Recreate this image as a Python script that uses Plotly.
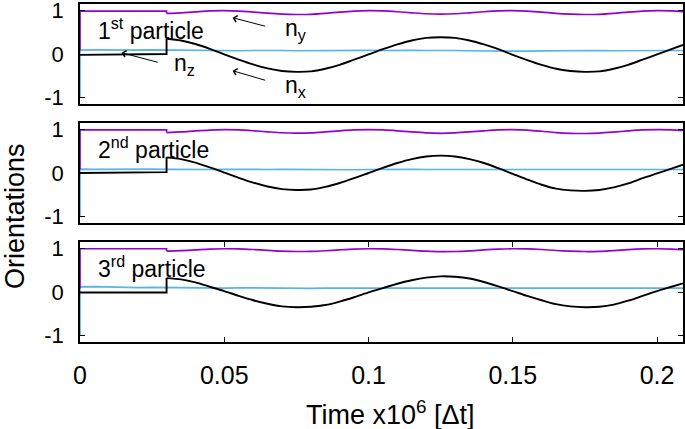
import plotly.graph_objects as go

# ---------------- data ----------------
T_PRE = [0.0, 0.01, 0.02, 0.03]
T_POST = [0.030, 0.035, 0.040, 0.045, 0.050, 0.055, 0.060, 0.065, 0.070, 0.075,
          0.080, 0.085, 0.090, 0.095, 0.100, 0.105, 0.110, 0.115, 0.120, 0.125,
          0.130, 0.135, 0.140, 0.145, 0.150, 0.155, 0.160, 0.165, 0.170, 0.175,
          0.180, 0.185, 0.190, 0.195, 0.200, 0.205, 0.209]
T_ALL = [0.000, 0.005, 0.010, 0.015, 0.020, 0.025, 0.030, 0.035, 0.040, 0.045,
         0.050, 0.055, 0.060, 0.065, 0.070, 0.075, 0.080, 0.085, 0.090, 0.095,
         0.100, 0.105, 0.110, 0.115, 0.120, 0.125, 0.130, 0.135, 0.140, 0.145,
         0.150, 0.155, 0.160, 0.165, 0.170, 0.175, 0.180, 0.185, 0.190, 0.195,
         0.200, 0.205, 0.209]

NZ_START = -1.0
NY_START = 0.08

# particle 1
NX1_PRE = [-0.02, -0.015, -0.01, 0.0]
NX1 = [0.35, 0.31, 0.23, 0.12, -0.01, -0.13, -0.24, -0.33, -0.39, -0.41,
       -0.40, -0.34, -0.25, -0.13, -0.01, 0.11, 0.22, 0.31, 0.37, 0.385,
       0.37, 0.31, 0.22, 0.11, -0.02, -0.14, -0.25, -0.34, -0.39, -0.41,
       -0.40, -0.34, -0.25, -0.13, -0.01, 0.11, 0.21]
NY1_PRE = [0.985, 0.985, 0.985, 0.985]
NY1 = [0.934, 0.948, 0.970, 0.990, 0.997, 0.988, 0.965, 0.938, 0.918, 0.909,
       0.913, 0.935, 0.965, 0.988, 0.997, 0.991, 0.972, 0.948, 0.926, 0.919,
       0.926, 0.948, 0.972, 0.991, 0.997, 0.987, 0.965, 0.935, 0.918, 0.909,
       0.913, 0.935, 0.965, 0.988, 0.997, 0.991, 0.975]
NZ1 = [0.09, 0.095, 0.09, 0.085, 0.09, 0.095, 0.09, 0.085, 0.08, 0.085,
       0.08, 0.075, 0.08, 0.085, 0.08, 0.075, 0.08, 0.085, 0.08, 0.08,
       0.085, 0.08, 0.09, 0.085, 0.08, 0.085, 0.08, 0.075, 0.07, 0.065,
       0.07, 0.065, 0.07, 0.075, 0.07, 0.075, 0.08, 0.075, 0.08, 0.085,
       0.08, 0.08, 0.08]

# particle 2
NX2_PRE = [0.0, 0.005, 0.01, 0.02]
NX2 = [0.36, 0.32, 0.24, 0.13, 0.01, -0.11, -0.22, -0.31, -0.37, -0.39,
       -0.38, -0.32, -0.23, -0.12, 0.00, 0.12, 0.23, 0.32, 0.38, 0.40,
       0.38, 0.32, 0.23, 0.11, -0.02, -0.15, -0.27, -0.36, -0.40, -0.41,
       -0.39, -0.33, -0.24, -0.12, -0.01, 0.10, 0.19]
NY2_PRE = [0.99, 0.99, 0.99, 0.99]
NY2 = [0.930, 0.944, 0.968, 0.988, 0.997, 0.991, 0.972, 0.948, 0.926, 0.918,
       0.922, 0.944, 0.970, 0.990, 0.997, 0.990, 0.970, 0.944, 0.922, 0.913,
       0.922, 0.944, 0.970, 0.991, 0.997, 0.986, 0.960, 0.930, 0.913, 0.909,
       0.918, 0.941, 0.968, 0.990, 0.997, 0.993, 0.977]
NZ2 = [0.09, 0.085, 0.09, 0.085, 0.085, 0.09, 0.085, 0.08, 0.085, 0.08,
       0.085, 0.08, 0.075, 0.08, 0.085, 0.08, 0.08, 0.075, 0.08, 0.075,
       0.08, 0.085, 0.08, 0.085, 0.08, 0.08, 0.075, 0.08, 0.08, 0.075,
       0.08, 0.08, 0.085, 0.08, 0.08, 0.085, 0.08, 0.08, 0.075, 0.08,
       0.08, 0.075, 0.08]

# particle 3
NX3_PRE = [-0.01, -0.01, -0.01, -0.01]
NX3 = [0.32, 0.29, 0.22, 0.12, 0.02, -0.09, -0.19, -0.27, -0.33, -0.35,
       -0.34, -0.30, -0.22, -0.12, -0.01, 0.09, 0.19, 0.27, 0.33, 0.36,
       0.35, 0.31, 0.23, 0.13, 0.02, -0.09, -0.19, -0.28, -0.33, -0.35,
       -0.34, -0.29, -0.20, -0.09, 0.02, 0.12, 0.20]
NY3_PRE = [0.995, 0.995, 0.995, 0.995]
NY3 = [0.942, 0.952, 0.970, 0.988, 0.995, 0.991, 0.977, 0.958, 0.939, 0.931,
       0.935, 0.949, 0.970, 0.988, 0.995, 0.991, 0.977, 0.958, 0.939, 0.928,
       0.931, 0.945, 0.968, 0.986, 0.995, 0.991, 0.977, 0.955, 0.939, 0.931,
       0.935, 0.952, 0.975, 0.991, 0.995, 0.988, 0.975]
NZ3 = [0.12, 0.125, 0.115, 0.105, 0.1, 0.105, 0.1, 0.095, 0.09, 0.095,
       0.09, 0.095, 0.09, 0.09, 0.095, 0.09, 0.085, 0.09, 0.09, 0.095,
       0.09, 0.095, 0.09, 0.09, 0.085, 0.09, 0.09, 0.085, 0.09, 0.085,
       0.09, 0.09, 0.085, 0.08, 0.085, 0.09, 0.085, 0.09, 0.09, 0.085,
       0.09, 0.095, 0.09]

PARTICLES = [
    ("1<sup>st</sup> particle", NX1_PRE, NX1, NY1_PRE, NY1, NZ1),
    ("2<sup>nd</sup> particle", NX2_PRE, NX2, NY2_PRE, NY2, NZ2),
    ("3<sup>rd</sup> particle", NX3_PRE, NX3, NY3_PRE, NY3, NZ3),
]

X_TICKS = [0, 0.05, 0.1, 0.15, 0.2]
X_TICKTEXT = ["0", "0.05", "0.1", "0.15", "0.2"]
Y_TICKS = [-1, 0, 1]
Y_TICKTEXT = ["-1", "0", "1"]

# ---------------- style ----------------
FONT = "Liberation Sans, Arial, Helvetica, sans-serif"
C_X = "#000000"
C_Y = "#9400D3"
C_Z = "#56B4E9"
LW_X = 1.9
LW = 1.7

W, H = 685, 429
ML, MR, MT, MB = 80, 2, 4, 87
plot_h = H - MT - MB
# panel pixel boxes (top, bottom) measured from top of figure
PANELS_PX = [(4, 104), (123, 223), (242, 342)]


def dom(top, bot):
    return [(H - MB - bot) / plot_h, (H - MB - top) / plot_h]


fig = go.Figure()

for i, (label, nxp, nx, nyp, ny, nz) in enumerate(PARTICLES):
    k = "" if i == 0 else str(i + 1)
    xa, ya = "x" + k, "y" + k
    # n_z (cyan)
    fig.add_trace(go.Scatter(x=[0.0] + T_ALL, y=[NZ_START] + nz, mode="lines",
                             line=dict(color=C_Z, width=LW), xaxis=xa, yaxis=ya,
                             showlegend=False, hoverinfo="skip"))
    # n_y (purple)
    fig.add_trace(go.Scatter(x=[0.0] + T_PRE + [T_POST[0]], y=[NY_START] + nyp + [ny[0]],
                             mode="lines", line=dict(color=C_Y, width=LW),
                             xaxis=xa, yaxis=ya, showlegend=False, hoverinfo="skip"))
    fig.add_trace(go.Scatter(x=T_POST, y=ny, mode="lines",
                             line=dict(color=C_Y, width=LW, shape="spline", smoothing=0.8),
                             xaxis=xa, yaxis=ya, showlegend=False, hoverinfo="skip"))
    # n_x (black)
    fig.add_trace(go.Scatter(x=T_PRE + [T_POST[0]], y=nxp + [nx[0]], mode="lines",
                             line=dict(color=C_X, width=LW_X),
                             xaxis=xa, yaxis=ya, showlegend=False, hoverinfo="skip"))
    fig.add_trace(go.Scatter(x=T_POST, y=nx, mode="lines",
                             line=dict(color=C_X, width=LW_X, shape="spline", smoothing=0.8),
                             xaxis=xa, yaxis=ya, showlegend=False, hoverinfo="skip"))

    top, bot = PANELS_PX[i]
    last = (i == 2)
    fig.layout["xaxis" + k] = dict(
        domain=[0, 1], range=[0, 0.209], anchor=ya, automargin=False,
        showline=True, linecolor="black", linewidth=1.5, mirror="ticks" if last else True,
        ticks="inside" if last else "", ticklen=5, tickwidth=1, tickcolor="black",
        tickvals=X_TICKS, ticktext=X_TICKTEXT, showticklabels=last,
        tickfont=dict(family=FONT, size=25, color="black"), ticklabelstandoff=10,
        ticklabeloverflow="allow",
        showgrid=False, zeroline=False,
        matches=None if i == 0 else "x",
    )
    fig.layout["yaxis" + k] = dict(
        domain=dom(top, bot), range=[-1.15, 1.15], anchor=xa, automargin=False,
        showline=True, linecolor="black", linewidth=1.5, mirror="ticks",
        ticks="inside", ticklen=5, tickwidth=1, tickcolor="black",
        tickvals=Y_TICKS, ticktext=Y_TICKTEXT,
        tickfont=dict(family=FONT, size=22, color="black"), ticklabelstandoff=10,
        ticklabeloverflow="allow",
        showgrid=False, zeroline=False,
    )
    fig.add_annotation(x=0.0057, y=0.58, xref=xa, yref=ya, text=label, showarrow=False,
                       xanchor="left", yanchor="middle",
                       font=dict(family=FONT, size=23, color="black"))

# labelled arrows in the first panel
ARROWS = [
    ("n<sub>y</sub>", 0.0703, 0.56, 0.0529, 0.835, 0.0647, 0.63),
    ("n<sub>z</sub>", 0.0320, -0.25, 0.0144, 0.03, 0.0275, -0.20),
    ("n<sub>x</sub>", 0.0703, -0.75, 0.0529, -0.384, 0.0647, -0.614),
]
for txt, tx, ty, hx, hy, sx, sy in ARROWS:
    fig.add_annotation(x=tx, y=ty, xref="x", yref="y", text=txt, showarrow=False,
                       xanchor="left", yanchor="middle",
                       font=dict(family=FONT, size=23, color="black"))
    fig.add_annotation(x=hx, y=hy, ax=sx, ay=sy, xref="x", yref="y", axref="x", ayref="y",
                       text="", showarrow=True, arrowhead=4, arrowsize=1.3,
                       arrowwidth=1, arrowcolor="black")

# axis titles
fig.add_annotation(x=(390 - ML) / (W - ML - MR), y=-(413 - (H - MB)) / plot_h,
                   xref="paper", yref="paper", text="Time x10<sup>6</sup> [Δt]",
                   showarrow=False, xanchor="center", yanchor="middle",
                   font=dict(family=FONT, size=27, color="black"))
fig.add_annotation(x=(15 - ML) / (W - ML - MR), y=(H - MB - 216) / plot_h,
                   xref="paper", yref="paper", text="Orientations", textangle=-90,
                   showarrow=False, xanchor="center", yanchor="middle",
                   font=dict(family=FONT, size=27, color="black"))

fig.update_layout(
    width=W, height=H,
    margin=dict(l=ML, r=MR, t=MT, b=MB, autoexpand=False),
    paper_bgcolor="white", plot_bgcolor="white",
    font=dict(family=FONT, color="black"),
    showlegend=False,
)

fig.write_html("out.html", config={"displayModeBar": False},
               post_script="document.body.style.margin='0';document.body.style.padding='0';")
